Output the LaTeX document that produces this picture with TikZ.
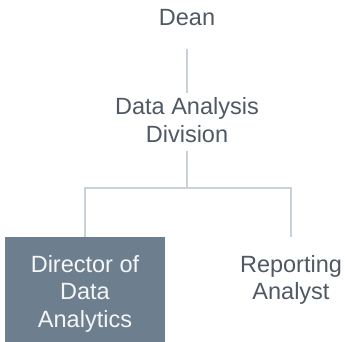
\documentclass[tikz,border=0pt]{standalone}
\usepackage{fontspec}
\setmainfont{Liberation Sans}
\definecolor{inkgray}{HTML}{4F5963}
\definecolor{linkgray}{HTML}{C9D2DA}
\definecolor{slate}{HTML}{6D7F8E}
\definecolor{boxtext}{HTML}{F4F6F8}
\tikzset{
  label text/.style={font=\fontsize{23.5}{27.5}\selectfont, text=inkgray,
    align=center, inner sep=0pt},
  unit box/.style={label text, anchor=north, inner xsep=0pt, inner ysep=18pt},
  lead box/.style={unit box, fill=slate, text=boxtext, text depth=66pt},
  link/.style={draw=linkgray, line width=2.2pt},
}
\begin{document}
\begin{tikzpicture}[x=1pt, y=-1pt]
  \useasboundingbox (0,0) rectangle (345,342);

  % people and units
  \node[label text, anchor=base] (dean) at (187,26) {Dean};
  \node[label text, anchor=north] (div) at (187,97.5) {Data Analysis\\Division};
  \node[lead box, minimum width=160pt] (dir) at (85,237) {Director of\\Data\\Analytics};
  \node[unit box, minimum width=100pt] (rep) at (291,237) {Reporting\\Analyst};

  % branch point under the division
  \coordinate (bar) at (187,188);

  % reporting lines
  \draw[link, shorten <=23pt, shorten >=4.5pt] (dean.south) -- (div.north);
  \draw[link, shorten <=8pt] (div.south) -- (bar);
  \draw[link] (bar) -| (dir.north);
  \draw[link] (bar) -| (rep.north);
\end{tikzpicture}
\end{document}
